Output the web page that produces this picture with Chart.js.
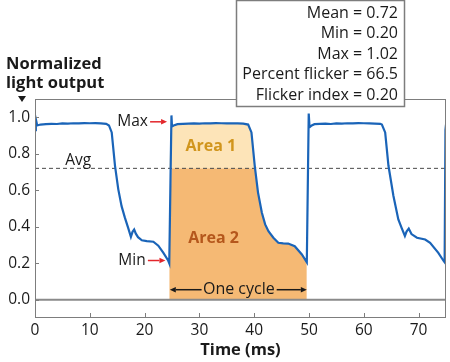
<!DOCTYPE html>
<html>
<head>
<meta charset="utf-8">
<script src="https://cdn.jsdelivr.net/npm/chart.js@4.4.1/dist/chart.umd.min.js"></script>
<style>
  html, body { margin: 0; padding: 0; background: #fff; }
</style>
</head>
<body>
<canvas id="chart" width="450" height="362"></canvas>
<script>
// Light output waveform
const timeMs = [
  0, 0.15, 0.4, 1, 2, 3, 4, 5, 6, 7, 8, 9, 10, 11, 12, 13, 13.5, 14.0, 14.6, 15.2,
  15.8, 16.4, 17.0, 17.5, 17.8, 18.1, 18.4, 18.8, 19.5, 20.4, 21.6, 22.5, 23.4, 24.3, 24.5,
  24.9, 25.0, 25.3, 26, 27, 28, 29, 30, 31, 32, 33, 34, 35, 36, 37, 38, 38.9, 39.5, 40.1,
  40.7, 41.4, 42.0, 42.6, 43.5, 44.4, 45.3, 46.2, 47.4, 48.7, 49.6,
  49.95, 50.1, 50.5, 51, 52, 53, 54, 55, 56, 57, 58, 59, 60, 61, 62, 63, 63.3, 63.9, 64.5,
  65.4, 66.3, 66.9, 67.5, 67.8, 68.2, 68.7, 69.7, 71.2, 72.1, 73.6, 74.6, 74.75, 74.9, 75
];
const lightOutput = [
  0.93, 0.99, 0.955, 0.96, 0.962, 0.964, 0.963, 0.966, 0.965, 0.967, 0.966, 0.968, 0.967, 0.968, 0.966, 0.964, 0.955, 0.917, 0.734, 0.605,
  0.513, 0.45, 0.394, 0.345, 0.372, 0.385, 0.362, 0.343, 0.326, 0.321, 0.318, 0.296, 0.258, 0.215, 0.20,
  1.01, 0.95, 0.955, 0.962, 0.964, 0.965, 0.966, 0.965, 0.967, 0.966, 0.968, 0.967, 0.966, 0.967, 0.966, 0.965, 0.96, 0.917, 0.734,
  0.587, 0.477, 0.413, 0.376, 0.34, 0.312, 0.309, 0.308, 0.293, 0.248, 0.205,
  1.02, 0.945, 0.955, 0.962, 0.964, 0.965, 0.963, 0.966, 0.965, 0.967, 0.966, 0.968, 0.967, 0.966, 0.965, 0.964, 0.96, 0.917, 0.734,
  0.57, 0.44, 0.394, 0.35, 0.374, 0.39, 0.36, 0.34, 0.33, 0.312, 0.257, 0.211, 0.205, 0.93, 0.96
];

const meanLevel = 0.72;
const maxLevel = 0.975;   // where the "Max" arrow points
const minLevel = 0.215;   // where the "Min" arrow points
const cycleStart = 24.5;
const cycleEnd = 49.6;

const xTickValues = [0, 10, 20, 30, 40, 50, 60, 70];
const yTickValues = [0, 0.2, 0.4, 0.6, 0.8, 1.0];

const statLines = [
  "Mean = 0.72",
  "Min = 0.20",
  "Max = 1.02",
  "Percent flicker = 66.5",
  "Flicker index = 0.20"
];

const FONT = "'Open Sans', 'Noto Sans', sans-serif";
const BLUE = "#1a64b8";
const RED = "#e3262b";
const INK = "#1a1a1a";

// Build point lists for the line and the two shaded areas
const curve = timeMs.map((t, i) => ({ x: t, y: lightOutput[i] }));
const inCycle = curve.filter(p => p.x >= cycleStart && p.x <= cycleEnd);
const area1 = inCycle.map(p => ({ x: p.x, y: Math.max(p.y, meanLevel) }));
const area2 = inCycle.map(p => ({ x: p.x, y: Math.min(p.y, meanLevel) }));

function drawArrow(ctx, x1, y1, x2, y2, color, head) {
  const ang = Math.atan2(y2 - y1, x2 - x1);
  ctx.strokeStyle = color;
  ctx.fillStyle = color;
  ctx.lineWidth = 1.5;
  ctx.beginPath();
  ctx.moveTo(x1, y1);
  ctx.lineTo(x2 - Math.cos(ang) * head, y2 - Math.sin(ang) * head);
  ctx.stroke();
  ctx.beginPath();
  ctx.moveTo(x2, y2);
  ctx.lineTo(x2 - Math.cos(ang) * head - Math.sin(ang) * head * 0.45,
             y2 - Math.sin(ang) * head + Math.cos(ang) * head * 0.45);
  ctx.lineTo(x2 - Math.cos(ang) * head + Math.sin(ang) * head * 0.45,
             y2 - Math.sin(ang) * head - Math.cos(ang) * head * 0.45);
  ctx.closePath();
  ctx.fill();
}

// Frame, inward ticks, labels and the stats box
const extras = {
  id: "extras",
  afterDraw(chart) {
    const { ctx, chartArea: a, scales: { x, y } } = chart;
    ctx.save();

    // plot frame
    ctx.strokeStyle = "#7d7d7d";
    ctx.lineWidth = 1;
    ctx.strokeRect(a.left + 0.5, a.top + 0.5, a.right - a.left - 1, a.bottom - a.top - 1);

    // inward tick marks
    ctx.beginPath();
    yTickValues.forEach(v => {
      const py = Math.round(y.getPixelForValue(v)) + 0.5;
      ctx.moveTo(a.left, py);
      ctx.lineTo(a.left + 4, py);
    });
    xTickValues.forEach(v => {
      const px = Math.round(x.getPixelForValue(v)) + 0.5;
      ctx.moveTo(px, a.bottom);
      ctx.lineTo(px, a.bottom - 5);
    });
    ctx.stroke();

    // annotations
    ctx.textBaseline = "middle";
    ctx.font = "15.5px " + FONT;
    ctx.fillStyle = INK;
    ctx.textAlign = "right";
    ctx.fillText("Max", x.getPixelForValue(20.6), y.getPixelForValue(maxLevel));
    ctx.fillText("Min", x.getPixelForValue(20.2), y.getPixelForValue(minLevel));
    ctx.textAlign = "center";
    ctx.fillText("Avg", x.getPixelForValue(7.9), y.getPixelForValue(0.765));

    drawArrow(ctx, x.getPixelForValue(21.0), y.getPixelForValue(maxLevel),
              x.getPixelForValue(24.1), y.getPixelForValue(maxLevel), RED, 6);
    drawArrow(ctx, x.getPixelForValue(20.6), y.getPixelForValue(minLevel),
              x.getPixelForValue(23.8), y.getPixelForValue(minLevel), RED, 6);

    ctx.font = "bold 16px " + FONT;
    ctx.fillStyle = "#d1951c";
    ctx.fillText("Area 1", x.getPixelForValue(32.1), y.getPixelForValue(0.842));
    ctx.fillStyle = "#b5571c";
    ctx.fillText("Area 2", x.getPixelForValue(32.6), y.getPixelForValue(0.336));

    // one cycle marker
    const cy = y.getPixelForValue(0.055);
    ctx.font = "16px " + FONT;
    ctx.fillStyle = INK;
    ctx.fillText("One cycle", x.getPixelForValue(37.2), cy);
    drawArrow(ctx, x.getPixelForValue(30.4), cy, x.getPixelForValue(24.6), cy, INK, 6);
    drawArrow(ctx, x.getPixelForValue(44.1), cy, x.getPixelForValue(49.6), cy, INK, 6);

    // y-axis title
    ctx.textAlign = "left";
    ctx.font = "bold 16.5px " + FONT;
    ctx.fillStyle = INK;
    ctx.fillText("Normalized", 6, 64);
    ctx.fillText("light output", 6, 83);
    ctx.beginPath();
    ctx.moveTo(18, 96);
    ctx.lineTo(26, 96);
    ctx.lineTo(22, 102);
    ctx.closePath();
    ctx.fill();

    // stats box
    ctx.fillStyle = "#fff";
    ctx.fillRect(236, 0, 169, 107);
    ctx.strokeStyle = "#7d7d7d";
    ctx.strokeRect(236.5, 0.5, 168, 106);
    ctx.fillStyle = INK;
    ctx.font = "16px " + FONT;
    ctx.textAlign = "right";
    statLines.forEach((s, i) => ctx.fillText(s, 398, 13 + i * 20.5));

    ctx.restore();
  }
};

new Chart(document.getElementById("chart"), {
  type: "line",
  data: {
    datasets: [
      {
        data: curve,
        borderColor: BLUE,
        borderWidth: 2.2,
        pointRadius: 0,
        tension: 0,
        fill: false
      },
      {
        data: [{ x: 0, y: meanLevel }, { x: 75, y: meanLevel }],
        borderColor: "#4a4a4a",
        borderWidth: 1,
        borderDash: [4, 3],
        pointRadius: 0,
        fill: false
      },
      {
        data: [{ x: 0, y: 0 }, { x: 75, y: 0 }],
        borderColor: "#8a8a8a",
        borderWidth: 2,
        pointRadius: 0,
        fill: false
      },
      {
        data: area1,
        borderWidth: 0,
        borderColor: "rgba(0,0,0,0)",
        backgroundColor: "#fde4b8",
        pointRadius: 0,
        fill: { value: meanLevel }
      },
      {
        data: area2,
        borderWidth: 0,
        borderColor: "rgba(0,0,0,0)",
        backgroundColor: "#f5b974",
        pointRadius: 0,
        fill: "origin"
      }
    ]
  },
  options: {
    responsive: false,
    animation: false,
    layout: { padding: { top: 99, right: 4, left: 0, bottom: 0 } },
    plugins: {
      legend: { display: false },
      tooltip: { enabled: false }
    },
    scales: {
      x: {
        type: "linear",
        min: 0,
        max: 75,
        afterFit: s => { s.height = 44; },
        afterBuildTicks: s => { s.ticks = xTickValues.map(v => ({ value: v })); },
        grid: { display: false, drawTicks: false },
        border: { display: false },
        ticks: {
          padding: 3,
          color: INK,
          font: { family: FONT, size: 15.5 }
        },
        title: {
          display: true,
          text: "Time (ms)",
          color: INK,
          font: { family: FONT, size: 16.5, weight: "bold" },
          padding: { top: 0, bottom: 2 }
        }
      },
      y: {
        min: -0.1,
        max: 1.1,
        afterFit: s => { s.width = 35; },
        afterBuildTicks: s => { s.ticks = yTickValues.map(v => ({ value: v })); },
        grid: { display: false, drawTicks: false },
        border: { display: false },
        ticks: {
          padding: 5,
          color: INK,
          font: { family: FONT, size: 15.5 },
          callback: v => v.toFixed(1)
        }
      }
    }
  },
  plugins: [extras]
});
</script>
</body>
</html>
